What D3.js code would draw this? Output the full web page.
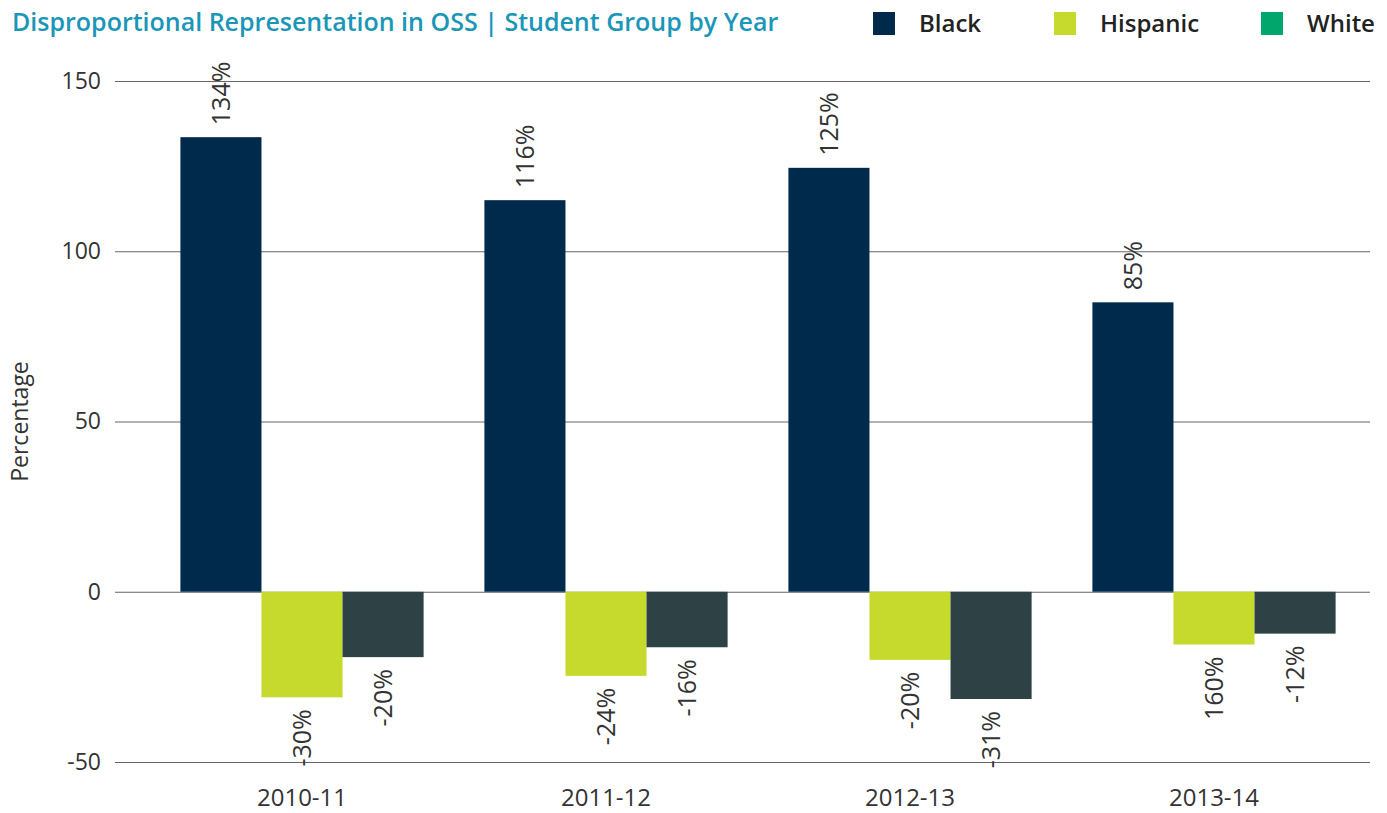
<!DOCTYPE html>
<html>
<head>
<meta charset="utf-8">
<script src="https://cdn.jsdelivr.net/npm/d3@7"></script>
<style>
  body { margin: 0; background: #fff; }
  svg { font-family: "Open Sans", sans-serif; }
</style>
</head>
<body>
<svg id="chart"></svg>
<script>
// chart data
const years = ['2010-11', '2011-12', '2012-13', '2013-14'];
const groups = ['Black', 'Hispanic', 'White'];
const blackValues = [133.5, 115, 124.5, 85];
const hispanicValues = [-31, -24.7, -20, -15.5];
const whiteValues = [-19.2, -16.3, -31.5, -12.3];
const blackLabels = ['134%', '116%', '125%', '85%'];
const hispanicLabels = ['-30%', '-24%', '-20%', '160%'];
const whiteLabels = ['-20%', '-16%', '-31%', '-12%'];
const yTicks = [-50, 0, 50, 100, 150];

const barColors = { Black: '#002a4b', Hispanic: '#c6d92d', White: '#2e4245' };
const legendColors = { Black: '#002a4b', Hispanic: '#c6d92d', White: '#00a66c' };

const width = 1387, height = 813;
const margin = { top: 81, right: 17, bottom: 51, left: 115 };

const svg = d3.select('#chart')
    .attr('width', width)
    .attr('height', height);

const rows = years.map((y, i) => ({
    year: y,
    bars: [
        { group: 'Black', value: blackValues[i], label: blackLabels[i] },
        { group: 'Hispanic', value: hispanicValues[i], label: hispanicLabels[i] },
        { group: 'White', value: whiteValues[i], label: whiteLabels[i] }
    ]
}));

const yScale = d3.scaleLinear()
    .domain([-50, 150])
    .range([height - margin.bottom, margin.top]);

const xScale = d3.scaleBand()
    .domain(years)
    .range([150, 1366])
    .paddingInner(0.2)
    .paddingOuter(0.1);

const xSub = d3.scaleBand()
    .domain(groups)
    .range([0, xScale.bandwidth()]);

// gridlines + y ticks
const yAxis = d3.axisLeft(yScale)
    .tickValues(yTicks)
    .tickFormat(d => String(d))
    .tickSize(-(width - margin.right - margin.left))
    .tickPadding(14);

const yAxisG = svg.append('g')
    .attr('transform', `translate(${margin.left},0)`)
    .call(yAxis);
yAxisG.select('.domain').remove();
yAxisG.selectAll('line').attr('stroke', '#666').attr('stroke-width', 1);
yAxisG.selectAll('text')
    .attr('font-size', 23)
    .attr('fill', '#333')
    .attr('font-family', '"Open Sans", sans-serif');

// bars
const groupG = svg.selectAll('.year')
    .data(rows)
    .join('g')
    .attr('class', 'year')
    .attr('transform', d => `translate(${xScale(d.year)},0)`);

groupG.selectAll('rect')
    .data(d => d.bars)
    .join('rect')
    .attr('x', d => xSub(d.group))
    .attr('width', xSub.bandwidth())
    .attr('y', d => yScale(Math.max(0, d.value)))
    .attr('height', d => Math.abs(yScale(d.value) - yScale(0)))
    .attr('fill', d => barColors[d.group]);

groupG.selectAll('.val')
    .data(d => d.bars)
    .join('text')
    .attr('class', 'val')
    .attr('transform', d => {
        const cx = xSub(d.group) + xSub.bandwidth() / 2;
        const cy = d.value >= 0 ? yScale(d.value) - 12 : yScale(d.value) + 12;
        return `translate(${cx},${cy}) rotate(-90)`;
    })
    .attr('text-anchor', d => d.value >= 0 ? 'start' : 'end')
    .attr('dy', '0.35em')
    .attr('font-size', 25)
    .attr('fill', '#333')
    .text(d => d.label);

// x axis labels
const xAxis = d3.axisBottom(xScale).tickSize(0).tickPadding(27);
const xAxisG = svg.append('g')
    .attr('transform', `translate(0,${height - margin.bottom})`)
    .call(xAxis);
xAxisG.select('.domain').remove();
xAxisG.selectAll('text')
    .attr('font-size', 24)
    .attr('fill', '#333')
    .attr('font-family', '"Open Sans", sans-serif');

// y axis title
svg.append('text')
    .attr('transform', `translate(28,${(margin.top + height - margin.bottom) / 2}) rotate(-90)`)
    .attr('text-anchor', 'middle')
    .attr('font-size', 23)
    .attr('fill', '#333')
    .text('Percentage');

// title
svg.append('text')
    .attr('x', 12)
    .attr('y', 31)
    .attr('font-size', 25)
    .attr('font-weight', 600)
    .attr('fill', '#1a96b8')
    .text('Disproportional Representation in OSS | Student Group by Year');

// legend
const legendX = [873, 1054, 1261];
const legend = svg.selectAll('.legend')
    .data(groups)
    .join('g')
    .attr('class', 'legend')
    .attr('transform', (d, i) => `translate(${legendX[i]},12)`);

legend.append('rect')
    .attr('width', 22)
    .attr('height', 23)
    .attr('fill', d => legendColors[d]);

legend.append('text')
    .attr('x', 46)
    .attr('y', 20)
    .attr('font-size', 24)
    .attr('font-weight', 600)
    .attr('fill', '#222')
    .text(d => d);
</script>
</body>
</html>
